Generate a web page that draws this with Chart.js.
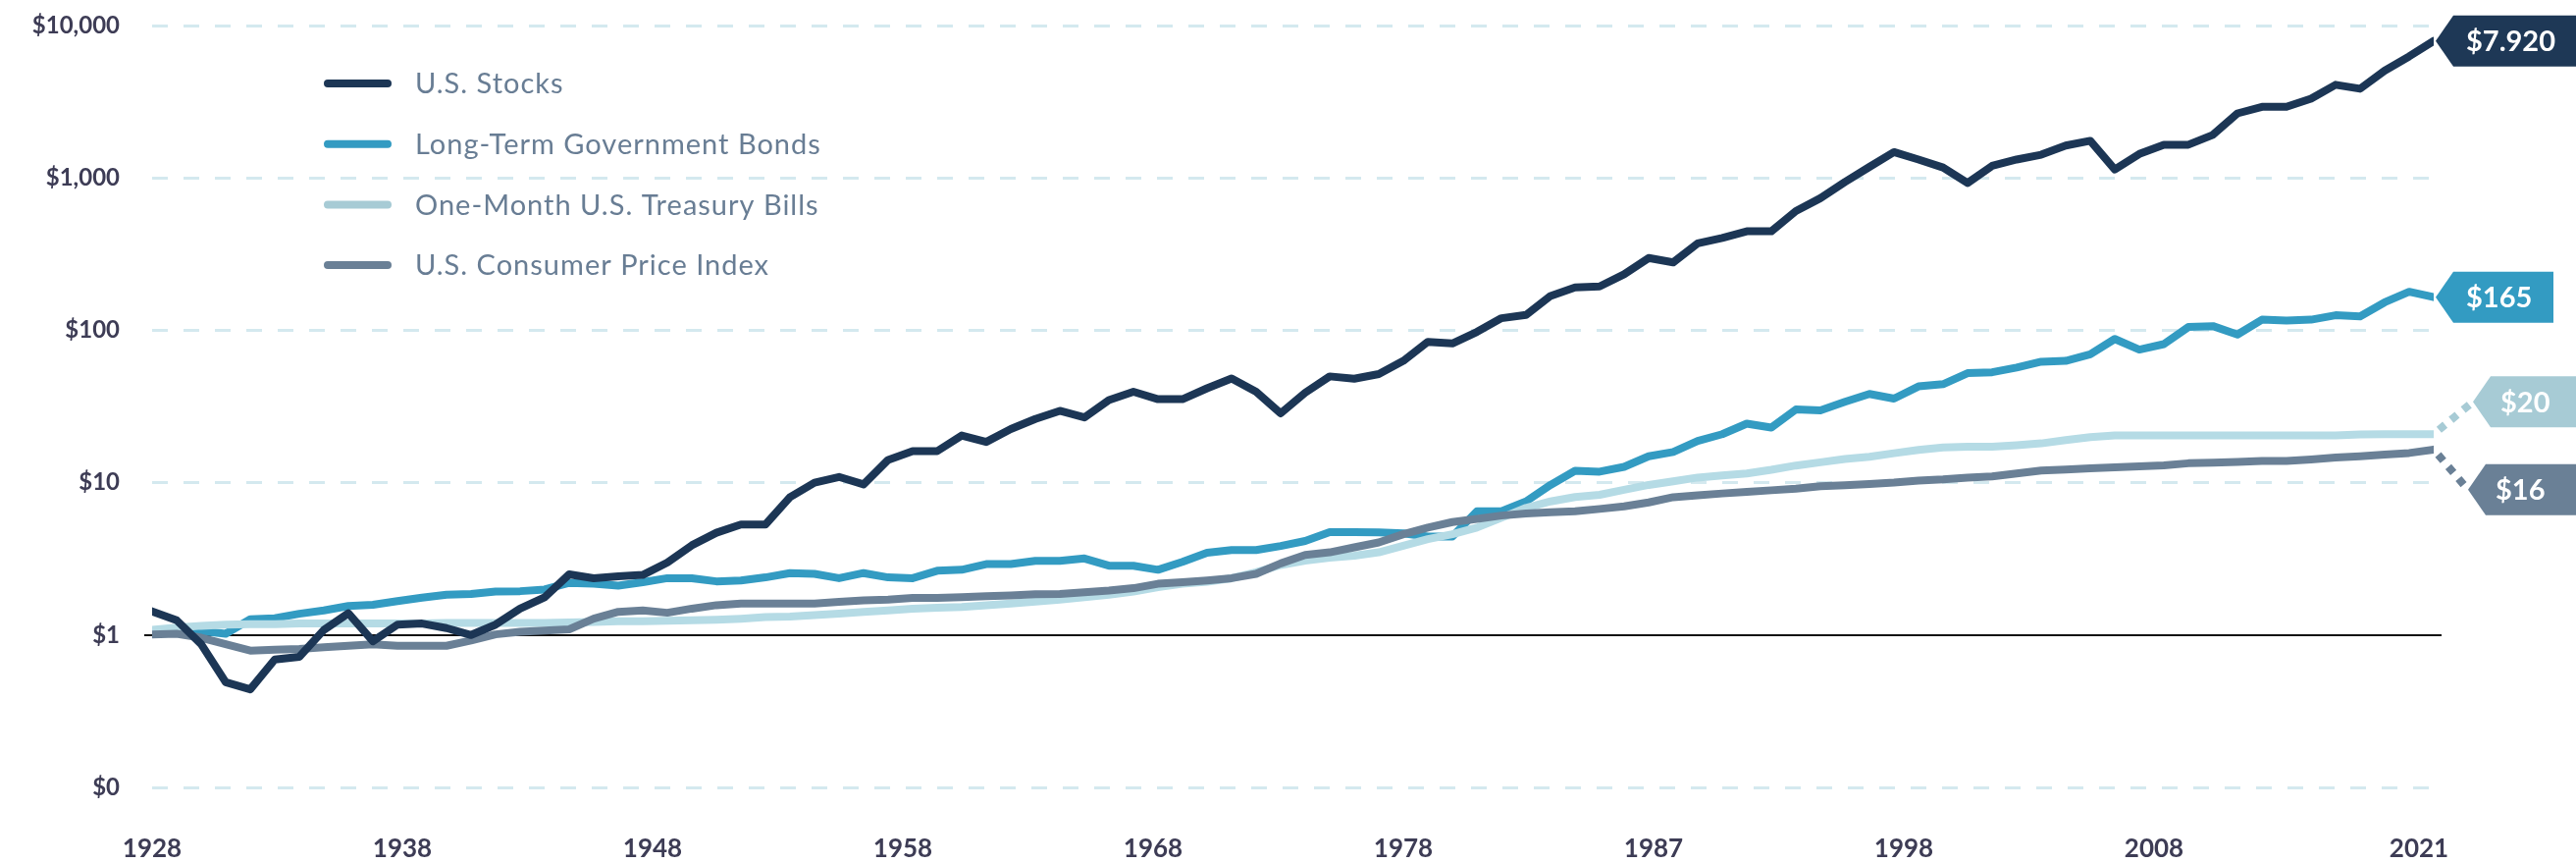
<!DOCTYPE html>
<html><head><meta charset="utf-8">
<script src="https://cdn.jsdelivr.net/npm/chart.js@4.4.1/dist/chart.umd.min.js"></script>
<style>html,body{margin:0;padding:0;background:#fff;overflow:hidden}#wrap{width:2625px;height:879px;position:relative}canvas{display:block}</style>
</head><body><div id="wrap"><canvas id="c" width="2625" height="879"></canvas></div>
<script>
const years = Array.from({length: 94}, (_, i) => 1928 + i);
const stocks = [1.43,1.25,0.87,0.49,0.44,0.69,0.72,1.08,1.39,0.91,
 1.17,1.19,1.11,1.00,1.17,1.49,1.77,2.50,2.36,2.43,
 2.48,2.99,3.88,4.69,5.31,5.31,8.03,10.0,10.9,9.74,
 14.1,16.1,16.1,20.4,18.5,22.5,26.2,29.6,26.8,34.8,
 39.5,35.3,35.3,41.6,48.3,39.5,28.5,38.9,49.8,48.1,
 51.6,63.0,84.0,81.9,97.5,120,126,168,191,194,
 233,298,279,372,404,446,446,606,736,939,
 1181,1477,1320,1169,926,1199,1320,1420,1630,1752,
 1137,1437,1651,1651,1917,2650,2928,2928,3314,4083,
 3848,5057,6270,7920];
const bonds = [1.07,1.08,1.06,1.02,1.27,1.29,1.38,1.45,1.55,1.58,
 1.67,1.76,1.84,1.86,1.93,1.94,1.99,2.20,2.17,2.11,
 2.22,2.36,2.36,2.25,2.28,2.39,2.55,2.52,2.36,2.55,
 2.39,2.36,2.64,2.68,2.92,2.92,3.07,3.07,3.18,2.85,
 2.85,2.68,3.02,3.47,3.61,3.61,3.84,4.14,4.74,4.74,
 4.72,4.65,4.43,4.43,6.49,6.49,7.53,9.66,11.97,11.8,
 12.7,14.9,15.9,18.8,20.8,24.4,23.0,30.2,29.8,33.9,
 38.2,35.6,42.8,44.3,52.3,53.0,56.9,62.2,63.0,69.5,
 87.7,74.7,81.1,105,106.5,93.8,117.4,115.7,117.4,125.5,
 123.2,152.6,179,165];
const bills = [1.08,1.12,1.15,1.17,1.18,1.18,1.19,1.19,1.19,1.19,
 1.19,1.19,1.20,1.20,1.20,1.20,1.20,1.21,1.22,1.23,
 1.23,1.24,1.25,1.26,1.28,1.31,1.32,1.35,1.38,1.42,
 1.45,1.49,1.51,1.53,1.57,1.61,1.66,1.71,1.77,1.84,
 1.93,2.06,2.17,2.24,2.36,2.58,2.88,3.08,3.22,3.32,
 3.49,3.85,4.26,4.59,5.07,5.88,6.83,7.53,8.04,8.32,
 8.97,9.66,10.2,10.8,11.15,11.5,12.15,12.95,13.6,14.3,
 14.8,15.6,16.4,17.0,17.2,17.2,17.6,18.1,19.0,19.9,
 20.4,20.4,20.4,20.4,20.4,20.4,20.4,20.4,20.4,20.4,
 20.7,20.8,20.8,20.8];
const cpi = [1.01,1.02,0.96,0.87,0.79,0.80,0.81,0.83,0.85,0.87,
 0.85,0.85,0.85,0.92,1.01,1.05,1.07,1.09,1.28,1.42,
 1.45,1.40,1.49,1.57,1.61,1.61,1.61,1.61,1.65,1.69,
 1.71,1.75,1.75,1.77,1.80,1.82,1.85,1.86,1.91,1.96,
 2.03,2.17,2.22,2.28,2.36,2.52,2.95,3.35,3.49,3.76,
 4.05,4.59,5.07,5.51,5.79,6.08,6.27,6.39,6.49,6.72,
 6.99,7.42,8.03,8.27,8.49,8.69,8.91,9.13,9.46,9.60,
 9.80,10.0,10.3,10.5,10.8,11.0,11.5,12.0,12.2,12.4,
 12.6,12.8,13.0,13.4,13.5,13.7,13.9,13.9,14.2,14.6,
 14.9,15.3,15.65,16.5];
const seriesNames = ['U.S. Stocks','Long-Term Government Bonds','One-Month U.S. Treasury Bills','U.S. Consumer Price Index'];
const endLabels = ['$7.920','$165','$20','$16'];
const xTickLabels = ['1928','1938','1948','1958','1968','1978','1987','1998','2008','2021'];
const yTickValues = [0.1,1,10,100,1000,10000];
const yTickLabels = ['$0','$1','$10','$100','$1,000','$10,000'];

const toPts = arr => arr.map((v, i) => ({x: years[i], y: v}));

const lineColors = ['#1c3655','#339bc2','#b5dbe5','#6a8096'];
const keyColors = ['#1c3655','#339bc2','#a7cbd5','#6a8096'];
const tagColors = ['#1e3856','#339bc2','#a7cbd5','#6a8096'];
const tagLayout = [
  {dx: 2, dy: 0, right: 2625, pad: 13, dots: false},
  {dx: 2, dy: 0, right: 2602, pad: 13, dots: false},
  {dx: 40, dy: -33, right: 2625, pad: 10, dots: true},
  {dx: 35, dy: 41, right: 2625, pad: 10, dots: true}
];

const baseLine = {
  id: 'baseLine',
  beforeDatasetsDraw(chart) {
    const {ctx, chartArea, scales} = chart;
    const py = Math.round(scales.y.getPixelForValue(1));
    ctx.save();
    ctx.strokeStyle = '#111';
    ctx.lineWidth = 2;
    ctx.beginPath();
    ctx.moveTo(chartArea.left - 8, py);
    ctx.lineTo(chartArea.right + 8, py);
    ctx.stroke();
    ctx.restore();
  }
};

const keyPlugin = {
  id: 'keyPlugin',
  afterDraw(chart) {
    const ctx = chart.ctx;
    ctx.save();
    chart.data.datasets.forEach((ds, i) => {
      const y = 85 + i * 61.7;
      ctx.strokeStyle = keyColors[i];
      ctx.lineWidth = 8;
      ctx.lineCap = 'round';
      ctx.setLineDash([]);
      ctx.beginPath();
      ctx.moveTo(334, y);
      ctx.lineTo(395, y);
      ctx.stroke();
      ctx.fillStyle = '#687d94';
      ctx.font = '400 29px Lato';
      ctx.letterSpacing = '1px';
      ctx.textBaseline = 'middle';
      ctx.textAlign = 'left';
      ctx.fillText(ds.label, 423, y + 1);
      ctx.letterSpacing = '0px';
    });
    ctx.restore();
  }
};

const tagPlugin = {
  id: 'tagPlugin',
  afterDatasetsDraw(chart) {
    const ctx = chart.ctx;
    ctx.save();
    chart.data.datasets.forEach((ds, i) => {
      const meta = chart.getDatasetMeta(i);
      const pt = meta.data[meta.data.length - 1];
      const L = tagLayout[i];
      const tipX = pt.x + L.dx, tipY = pt.y + L.dy;
      if (L.dots) {
        const len = Math.hypot(L.dx, L.dy);
        const ux = L.dx / len, uy = L.dy / len;
        ctx.strokeStyle = tagColors[i];
        ctx.lineWidth = 8;
        ctx.lineCap = 'butt';
        ctx.setLineDash([8, 8]);
        ctx.beginPath();
        ctx.moveTo(pt.x + ux * 7, pt.y + uy * 7);
        ctx.lineTo(tipX - ux * 2, tipY - uy * 2);
        ctx.stroke();
        ctx.setLineDash([]);
      }
      ctx.fillStyle = tagColors[i];
      ctx.beginPath();
      ctx.moveTo(tipX, tipY);
      ctx.lineTo(tipX + 18, tipY - 26);
      ctx.lineTo(L.right, tipY - 26);
      ctx.lineTo(L.right, tipY + 26);
      ctx.lineTo(tipX + 18, tipY + 26);
      ctx.closePath();
      ctx.fill();
      ctx.fillStyle = '#ffffff';
      ctx.font = '700 29px Lato';
      ctx.textBaseline = 'middle';
      ctx.textAlign = 'left';
      ctx.fillText(endLabels[i], tipX + 18 + L.pad, tipY + 1);
    });
    ctx.restore();
  }
};

const common = {borderWidth: 8, pointRadius: 0, pointHoverRadius: 0, tension: 0, fill: false,
  borderJoinStyle: 'round', borderCapStyle: 'round'};

new Chart(document.getElementById('c'), {
  type: 'line',
  data: {
    datasets: [
      Object.assign({label: seriesNames[0], data: toPts(stocks), borderColor: lineColors[0], order: 0}, common),
      Object.assign({label: seriesNames[1], data: toPts(bonds), borderColor: lineColors[1], order: 3}, common),
      Object.assign({label: seriesNames[2], data: toPts(bills), borderColor: lineColors[2], order: 2}, common),
      Object.assign({label: seriesNames[3], data: toPts(cpi), borderColor: lineColors[3], order: 1}, common)
    ]
  },
  options: {
    responsive: false,
    animation: false,
    devicePixelRatio: 1,
    layout: {padding: {top: 26, right: 145, left: 0, bottom: 0}},
    plugins: {legend: {display: false}, tooltip: {enabled: false}},
    scales: {
      x: {
        type: 'linear', min: years[0], max: years[years.length - 1], bounds: 'data',
        afterBuildTicks: s => { s.ticks = xTickLabels.map((_, k) => ({value: k < 9 ? years[0] + k * 10.2 : years[0] + 92.4})); },
        afterFit: s => { s.height = 77; },
        ticks: {
          callback: (v, i) => xTickLabels[i], autoSkip: false, maxRotation: 0, minRotation: 0,
          padding: 47, color: '#3d3c55', font: {family: 'Lato', size: 26, weight: '700'}
        },
        grid: {display: false, drawTicks: false},
        border: {display: false}
      },
      y: {
        type: 'logarithmic', min: 0.1, max: 10000,
        afterBuildTicks: s => { s.ticks = yTickValues.map(v => ({value: v})); },
        afterFit: s => { s.width = 155; },
        ticks: {
          callback: (v) => { const k = yTickValues.indexOf(v); return k >= 0 ? yTickLabels[k] : ''; },
          autoSkip: false, padding: 0, color: '#3d3c55', font: {family: 'Lato', size: 24, weight: '700'}
        },
        grid: {color: c => (c.tick && c.tick.value === 1) ? 'rgba(0,0,0,0)' : '#d4e9ef', lineWidth: 3,
          drawTicks: true, tickLength: 33, tickColor: 'rgba(0,0,0,0)'},
        border: {display: false, dash: [16, 16]}
      }
    }
  },
  plugins: [baseLine, tagPlugin, keyPlugin]
});
</script>
</body></html>
